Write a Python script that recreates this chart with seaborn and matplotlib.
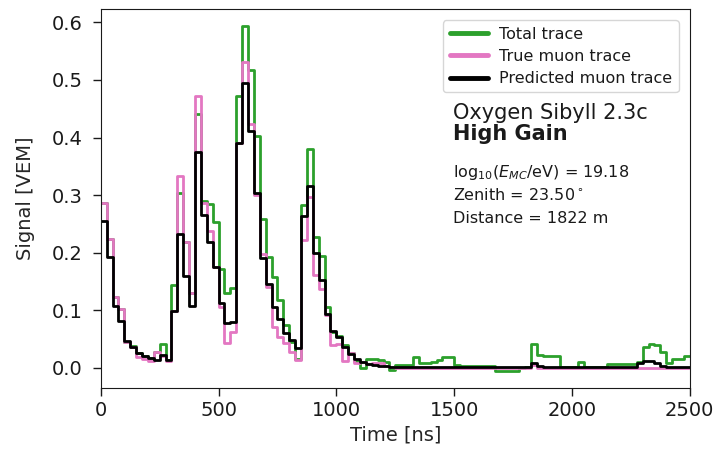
import numpy as np
import pandas as pd
import seaborn as sns
import matplotlib
matplotlib.use("Agg")
import matplotlib.pyplot as plt

# 25 ns bins from 0 to 2500 ns
bin_width = 25
n_bins = 100

total_trace = [
    0.287, 0.223, 0.123, 0.103, 0.045, 0.038, 0.026, 0.020, 0.017, 0.028,
    0.041, 0.014, 0.143, 0.303, 0.218, 0.130, 0.441, 0.290, 0.285, 0.253,
    0.172, 0.130, 0.138, 0.472, 0.593, 0.518, 0.402, 0.258, 0.192, 0.157,
    0.118, 0.075, 0.045, 0.016, 0.282, 0.380, 0.228, 0.195, 0.106, 0.062,
    0.055, 0.039, 0.025, 0.012, 0.000, 0.015, 0.016, 0.014, 0.010, -0.003,
    0.005, 0.005, 0.005, 0.018, 0.008, 0.008, 0.010, 0.013, 0.019, 0.019,
    0.005, 0.004, 0.004, 0.004, 0.004, 0.004, 0.004, -0.005, -0.005, -0.005,
    -0.005, -0.001, 0.002, 0.041, 0.022, 0.020, 0.020, 0.020, 0.002, 0.002,
    0.002, 0.010, 0.002, 0.002, 0.002, 0.002, 0.006, 0.006, 0.006, 0.006,
    0.006, 0.010, 0.037, 0.041, 0.039, 0.028, 0.008, 0.016, 0.016, 0.020,
]

true_muon = [
    0.287, 0.223, 0.123, 0.103, 0.045, 0.036, 0.019, 0.015, 0.012, 0.028,
    0.020, 0.012, 0.099, 0.333, 0.218, 0.130, 0.472, 0.287, 0.238, 0.175,
    0.106, 0.043, 0.062, 0.391, 0.532, 0.423, 0.301, 0.198, 0.140, 0.071,
    0.054, 0.043, 0.028, 0.013, 0.222, 0.297, 0.162, 0.137, 0.091, 0.040,
    0.042, 0.012, 0.025, 0.008, 0.010, 0.006, 0.008, 0.008, 0.004, 0.001,
    0.000, 0.000, 0.000, 0.000, 0.000, 0.000, 0.000, 0.000, 0.000, 0.000,
    0.000, 0.000, 0.000, 0.000, 0.000, 0.000, 0.000, 0.000, 0.000, 0.000,
    0.000, 0.000, 0.000, 0.005, 0.000, 0.000, 0.000, 0.000, 0.000, 0.000,
    0.000, 0.000, 0.000, 0.000, 0.000, 0.000, 0.000, 0.000, 0.000, 0.000,
    0.000, 0.000, 0.000, 0.000, 0.000, 0.000, 0.000, 0.000, 0.000, 0.000,
]

predicted_muon = [
    0.255, 0.192, 0.107, 0.082, 0.046, 0.037, 0.026, 0.020, 0.017, 0.014,
    0.023, 0.014, 0.098, 0.233, 0.160, 0.108, 0.374, 0.265, 0.218, 0.175,
    0.112, 0.078, 0.079, 0.391, 0.495, 0.411, 0.303, 0.191, 0.146, 0.106,
    0.084, 0.060, 0.048, 0.035, 0.263, 0.315, 0.200, 0.152, 0.094, 0.064,
    0.053, 0.037, 0.024, 0.016, 0.010, 0.007, 0.005, 0.004, 0.003, 0.002,
    0.002, 0.002, 0.002, 0.002, 0.002, 0.002, 0.002, 0.002, 0.002, 0.002,
    0.002, 0.002, 0.002, 0.002, 0.002, 0.002, 0.002, 0.002, 0.002, 0.002,
    0.002, 0.002, 0.002, 0.008, 0.004, 0.002, 0.002, 0.002, 0.002, 0.002,
    0.002, 0.002, 0.002, 0.002, 0.002, 0.002, 0.002, 0.002, 0.002, 0.002,
    0.002, 0.008, 0.012, 0.012, 0.008, 0.003, 0.001, 0.002, 0.002, 0.002,
]

series_labels = ["Total trace", "True muon trace", "Predicted muon trace"]
series_colors = ["#2ca02c", "#e377c2", "black"]

# long-format table; last value repeated at the final edge so the step closes at 2500 ns
edges = np.arange(n_bins + 1) * bin_width
frames = []
for label, vals in zip(series_labels, [total_trace, true_muon, predicted_muon]):
    y = list(vals) + [vals[-1]]
    frames.append(pd.DataFrame({"time": edges, "signal": y, "trace": label}))
df = pd.concat(frames, ignore_index=True)

sns.set_style("ticks")
plt.rcParams["font.family"] = ["DejaVu Sans"]
plt.rcParams["text.color"] = "#1a1a1a"

fig, ax = plt.subplots(figsize=(7.2, 4.58), dpi=100)
fig.subplots_adjust(left=0.140, right=0.958, top=0.980, bottom=0.153)

sns.lineplot(
    data=df, x="time", y="signal", hue="trace",
    hue_order=series_labels, palette=dict(zip(series_labels, series_colors)),
    estimator=None, sort=False, drawstyle="steps-post", linewidth=2.0, ax=ax,
)

ax.set_xlim(0, 2500)
ax.set_xticks([0, 500, 1000, 1500, 2000, 2500])
ax.set_yticks([0.0, 0.1, 0.2, 0.3, 0.4, 0.5, 0.6])
ax.set_xlabel("Time [ns]", fontsize=14, labelpad=4)
ax.set_ylabel("Signal [VEM]", fontsize=14, labelpad=12)
ax.tick_params(labelsize=14, length=6, width=1, colors="#1a1a1a")
ax.tick_params(axis="y", pad=7)
for s in ax.spines.values():
    s.set_color("#1a1a1a")

handles, labels = ax.get_legend_handles_labels()
leg = ax.legend(handles, labels, loc="upper right", fontsize=11.5,
                handlelength=2.4, handletextpad=0.7, labelspacing=0.45,
                borderaxespad=0.7, framealpha=0.8)
for h in leg.get_lines():
    h.set_linewidth(3.5)

ax.text(0.598, 0.752, "Oxygen Sibyll 2.3c", transform=ax.transAxes,
        fontsize=15, va="top", ha="left")
ax.text(0.598, 0.698, "High Gain", transform=ax.transAxes,
        fontsize=15, fontweight="bold", va="top", ha="left")
ax.text(0.598, 0.594, r"log$_{10}$($E_{MC}$/eV) = 19.18", transform=ax.transAxes,
        fontsize=11.5, va="top", ha="left")
ax.text(0.598, 0.530, r"Zenith = 23.50$^\circ$", transform=ax.transAxes,
        fontsize=11.5, va="top", ha="left")
ax.text(0.598, 0.467, "Distance = 1822 m", transform=ax.transAxes,
        fontsize=11.5, va="top", ha="left")

fig.savefig("out.png", dpi=100)
